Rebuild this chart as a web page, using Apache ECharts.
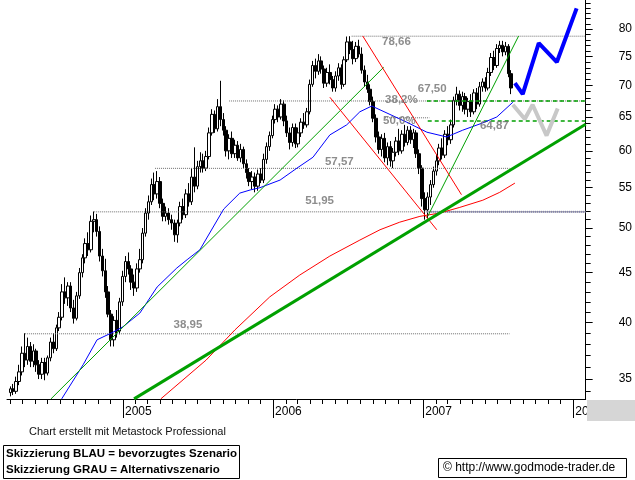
<!DOCTYPE html>
<html><head><meta charset="utf-8">
<script src="https://cdn.jsdelivr.net/npm/echarts@6/dist/echarts.min.js"></script>
<style>html,body{margin:0;padding:0;background:#fff}#c{width:635px;height:480px}</style>
</head><body><div id="c"></div>
<script>
// ---- data ----
const firstWeek = '2004-04-02';
// weekly candles: [open, close, low, high]
const candles = [
[33.9,34.2,33.6,34.4],[34.2,34.0,33.7,34.6],[34.0,34.8,33.8,35.2],[34.8,35.6,34.5,36.2],[35.6,37.2,35.3,37.8],
[37.2,36.6,36.0,39.0],[36.6,37.8,36.2,38.6],[37.8,36.5,36.0,38.2],[36.5,37.4,36.0,38.0],[37.4,36.2,35.6,37.6],
[36.2,35.4,35.0,36.6],[35.4,36.4,35.0,36.8],[36.4,35.5,34.9,36.8],[35.5,36.8,35.3,37.0],[36.8,38.2,36.5,38.6],
[38.2,37.6,37.2,39.0],[37.6,39.5,37.4,39.8],[39.5,40.5,39.2,41.0],[40.5,43.0,40.2,43.8],[43.0,42.4,41.8,44.5],
[42.4,43.6,41.6,44.0],[43.6,41.4,41.0,44.0],[41.4,40.4,39.9,42.2],[40.4,42.6,40.2,43.0],[42.6,45.0,42.3,45.5],
[45.0,46.6,44.5,47.0],[46.6,48.2,46.0,48.8],[48.2,47.5,46.8,49.5],[47.5,50.8,47.2,51.5],[50.8,51.0,49.5,52.0],
[51.0,49.6,49.0,51.7],[49.6,46.8,46.2,50.2],[46.8,45.2,44.6,47.6],[45.2,43.0,42.4,46.5],[43.0,40.8,40.5,43.6],
[40.8,38.4,37.8,41.2],[38.4,40.2,37.8,40.6],[40.2,39.2,38.6,41.2],[39.2,42.0,38.9,42.4],[42.0,44.6,41.6,45.2],
[44.6,46.2,44.0,46.8],[46.2,45.4,44.8,47.2],[45.4,44.0,43.2,45.8],[44.0,43.4,42.6,44.8],[43.4,45.4,43.0,46.0],
[45.4,46.4,45.0,47.6],[46.4,49.4,46.0,50.0],[49.4,51.8,49.0,52.4],[51.8,53.2,51.0,54.0],[53.2,55.4,52.8,56.2],
[55.4,54.2,53.4,57.0],[54.2,55.8,53.6,57.2],[55.8,53.0,52.4,56.4],[53.0,51.4,50.8,53.6],[51.4,51.8,50.8,52.6],
[51.8,51.0,50.4,52.4],[51.0,50.6,49.8,51.6],[50.6,49.2,48.4,51.0],[49.2,50.6,48.3,51.0],[50.6,52.6,50.2,53.2],
[52.6,51.6,51.0,53.6],[51.6,54.2,51.2,54.8],[54.2,53.2,52.6,55.6],[53.2,56.4,52.8,57.6],[56.4,55.2,54.4,60.5],
[55.2,57.8,54.8,58.6],[57.8,58.6,57.0,59.8],[58.6,57.6,57.0,59.6],[57.6,59.2,57.2,60.0],[59.2,62.6,58.8,63.4],
[62.6,65.4,62.2,66.2],[65.4,63.2,62.6,66.0],[63.2,66.6,62.8,67.8],[66.6,64.6,63.6,70.8],[64.6,63.0,62.2,65.6],
[63.0,60.0,59.2,63.6],[60.0,61.8,58.8,62.4],[61.8,59.6,59.0,62.8],[59.6,60.8,59.0,61.6],[60.8,59.0,58.6,61.4],
[59.0,60.2,58.4,61.0],[60.2,58.2,57.6,60.6],[58.2,57.0,56.2,58.8],[57.0,55.8,55.2,57.6],[55.8,56.4,54.8,57.2],
[56.4,55.2,54.4,57.0],[55.2,56.8,54.6,57.4],[56.8,56.0,55.6,57.6],[56.0,58.8,55.6,59.6],[58.8,60.6,58.2,61.2],
[60.6,62.2,60.0,62.8],[62.2,64.6,61.8,65.2],[64.6,66.2,64.0,67.0],[66.2,65.0,64.2,66.8],[65.0,67.0,64.6,67.8],
[67.0,64.4,63.6,67.6],[64.4,62.6,62.0,65.2],[62.6,61.2,60.2,63.4],[61.2,63.4,60.6,64.0],[63.4,61.0,60.4,64.0],
[61.0,62.6,60.5,63.4],[62.6,64.2,62.0,64.8],[64.2,63.8,63.2,65.6],[63.8,65.8,63.4,66.4],[65.8,70.2,65.4,71.0],
[70.2,73.4,69.8,74.2],[73.4,72.4,71.2,74.6],[72.4,74.2,71.8,75.4],[74.2,72.8,72.0,75.0],[72.8,70.4,69.6,73.4],
[70.4,72.2,69.8,73.0],[72.2,71.0,70.2,73.6],[71.0,69.6,69.0,71.6],[69.6,71.6,69.0,72.4],[71.6,73.0,70.8,73.8],
[73.0,70.2,69.4,73.6],[70.2,74.4,69.8,75.0],[74.4,77.6,74.0,78.6],[77.6,76.2,75.4,78.66],[76.2,74.6,73.6,77.8],
[74.6,76.8,74.0,77.6],[76.8,75.4,74.8,78.0],[75.4,72.6,72.0,76.6],[72.6,70.6,69.8,73.4],[70.6,69.4,68.8,71.8],
[69.4,67.4,66.8,70.2],[67.4,64.8,64.2,68.2],[64.8,62.0,61.2,65.4],[62.0,60.2,59.6,62.8],[60.2,61.8,59.2,62.4],
[61.8,59.0,58.4,62.6],[59.0,60.6,58.0,61.2],[60.6,58.6,57.8,61.4],[58.6,59.8,57.6,60.4],[59.8,61.4,59.2,62.0],
[61.4,60.0,59.4,63.2],[60.0,62.4,59.6,63.0],[62.4,61.2,60.6,63.8],[61.2,63.0,60.8,63.6],[63.0,61.6,61.0,63.6],
[61.6,62.6,60.4,63.2],[62.6,59.6,59.0,63.0],[59.6,57.6,56.8,60.2],[57.6,53.6,52.6,58.0],[53.6,52.2,51.0,54.4],
[52.2,53.8,51.2,54.4],[53.8,55.4,52.8,56.0],[55.4,57.2,55.0,57.8],[57.2,58.6,56.6,59.4],[58.6,60.4,58.0,61.0],
[60.4,59.4,58.8,61.8],[59.4,62.4,59.0,63.0],[62.4,61.6,60.8,63.6],[61.6,63.8,61.0,64.6],[63.8,67.6,63.4,68.2],
[67.6,68.6,66.8,69.8],[68.6,66.8,66.0,69.2],[66.8,68.2,65.8,69.0],[68.2,66.2,65.4,68.8],[66.2,67.4,65.0,68.0],
[67.4,65.8,65.0,68.6],[65.8,68.8,65.4,69.4],[68.8,67.0,66.2,69.6],[67.0,69.8,66.6,70.6],[69.8,70.6,69.0,71.2],
[70.6,69.6,69.0,71.4],[69.6,72.2,69.2,73.0],[72.2,74.8,71.6,75.6],[74.8,73.4,72.6,76.0],[73.4,76.4,73.0,77.2],
[76.4,77.0,75.6,77.8],[77.0,75.8,75.0,77.8],[75.8,76.8,75.2,77.6],[76.8,72.0,71.4,77.2],[72.0,69.6,68.6,72.6]
];
const blueMA = [
['2004-08-05',33.4],['2004-09-26',36.2],['2004-10-30',38.4],['2004-12-08',39.1],['2005-01-01',39.6],
['2005-02-11',40.9],['2005-03-25',43.5],['2005-05-12',45.5],['2005-06-06',46.4],['2005-07-07',47.5],
['2005-09-03',52.3],['2005-10-12',54.3],['2005-11-06',54.7],['2005-11-30',55.0],['2006-01-18',56.0],
['2006-02-28',57.6],['2006-04-08',59.1],['2006-05-19',62.3],['2006-06-29',63.8],['2006-07-31',65.8],
['2006-08-29',66.7],['2006-10-05',65.6],['2006-11-22',64.2],['2007-01-10',62.7],['2007-02-27',62.0],
['2007-04-07',63.0],['2007-05-26',64.1],['2007-06-29',65.0],['2007-08-07',67.3]
];
const redMA = [
['2005-04-03',33.4],['2005-07-22',36.6],['2005-09-30',39.3],['2005-12-24',42.5],['2006-03-07',44.75],
['2006-05-19',46.8],['2006-07-31',48.6],['2006-09-18',49.8],['2006-11-05',50.7],['2006-12-24',51.4],
['2007-02-10',51.8],['2007-03-31',52.5],['2007-05-26',53.4],['2007-07-06',54.4],['2007-08-12',55.6]
];
const blueSketch = [['2007-08-12',70.4],['2007-08-31',68.6],['2007-10-09',77.4],['2007-11-22',74.0],['2008-01-09',84.0]];
const graySketch = [['2007-08-07',66.9],['2007-09-05',64.7],['2007-09-24',66.9],['2007-10-28',62.2],['2007-11-24',66.3]];
const greenThick = [['2005-01-28',33.4],['2008-01-31',63.9]];
const greenThin1 = [['2004-07-10',33.4],['2006-09-27',73.1]];
const greenThin2 = [['2007-01-12',51.4],['2007-08-21',78.7]];
const red1 = [['2006-08-07',78.7],['2007-04-04',54.1]];
const red2 = [['2006-05-19',68.1],['2007-02-03',49.8]];
const levels = [
 [78.66,'2006-07-11','2008-01-31'],[67.50,'2005-09-16','2008-01-31'],[64.87,'2006-09-30','2007-01-16'],
 [57.57,'2005-03-20','2007-07-30'],[51.95,'2004-10-23','2008-01-31'],[38.95,'2004-05-08','2007-07-30']
];
const blueLevels = [[51.95,'2007-01-10','2008-01-31']];
const dashedLevels = [[67.50,'2007-01-10','2008-01-31'],[64.40,'2007-01-12','2008-01-31']];
const levelLabels = [
 ['78,66','2006-10-28',77.6],['67,50','2007-01-23',69.4],['38,2%','2006-11-09',67.65],['50,0%','2006-11-04',64.4],
 ['64,87','2007-06-23',63.6],['57,57','2006-06-11',58.4],['51,95','2006-04-24',53.3],['38,95','2005-06-08',39.8]
];
const priceTicks = [35,40,45,50,55,60,65,70,75,80];
const yearTicks = ['2005-01-01','2006-01-01','2007-01-01','2008-01-01'];
const yMin = 33.39, yMax = 85.68;
const xMin = '2004-03-25', xMax = '2008-01-31';

// ---- helpers ----
const L = Math.log;
const DAY = 864e5;
const T = s => new Date(s + 'T00:00:00Z').getTime();
const t0 = T(firstWeek);
const weekDate = i => t0 + i * 7 * DAY;
const minorTicks = []; for (let p = 33; p <= 85; p++) minorTicks.push(L(p));
const monthTicks = []; for (let y = 2004; y <= 2008; y++) for (let m = 0; m < 12; m++) monthTicks.push(Date.UTC(y, m, 1));
const pts = arr => arr.map(d => [T(d[0]), L(d[1])]);
const lineS = (data, color, width, type, z) => ({type:'line', data: pts(data), symbol:'none', silent:true, animation:false,
  lineStyle:{color, width, type: type || 'solid'}, z: z || 3});

const series = [
 {type:'candlestick', animation:false, barWidth:3, z:2,
  data: candles.map((c,i)=>[weekDate(i), L(c[0]), L(c[1]), L(c[2]), L(c[3])]),
  itemStyle:{color:'#fff', color0:'#000', borderColor:'#000', borderColor0:'#000', borderWidth:1}}
];
levels.forEach(l => series.push(lineS([[l[1],l[0]],[l[2],l[0]]], '#6e6e6e', 1, [1,1], 3)));
blueLevels.forEach(l => series.push(lineS([[l[1],l[0]],[l[2],l[0]]], '#7a7aa6', 2, [1,1], 3)));
dashedLevels.forEach(l => series.push(lineS([[l[1],l[0]],[l[2],l[0]]], '#00a000', 1.5, [4,3], 4)));
series.push(lineS(blueMA, '#0000ff', 1, null, 4));
series.push(lineS(redMA, '#ff0000', 1, null, 4));
series.push(lineS(greenThin1, '#00a000', 1, null, 4));
series.push(lineS(greenThin2, '#00a000', 1, null, 4));
series.push(lineS(red1, '#ff0000', 1, null, 4));
series.push(lineS(red2, '#ff0000', 1, null, 4));
series.push(lineS(greenThick, '#00a000', 3, null, 5));
series.push(lineS(graySketch, '#c8c8c8', 4, null, 6));
series.push(lineS(blueSketch, '#0000ff', 4, null, 6));
series.push({type:'scatter', symbolSize:1, itemStyle:{color:'rgba(0,0,0,0)'}, silent:true, animation:false, z:7,
  data: levelLabels.map(l => ({value:[T(l[1]), L(l[2])], label:{show:true, position:'inside', formatter:l[0],
    color:'#707070', fontWeight:'bold', fontSize:11.5, fontFamily:'Liberation Sans, Arial'}}))});

const font = 'Liberation Sans, Arial';
const option = {
 animation:false,
 grid:{left:7, right:49, top:0, bottom:81, containLabel:false},
 xAxis:[
  {type:'value', min:T(xMin), max:T(xMax), position:'bottom',
   axisLine:{show:true, lineStyle:{color:'#000', width:1}},
   axisTick:{show:true, customValues: monthTicks, length:5, lineStyle:{color:'#000'}},
   axisLabel:{show:false}, splitLine:{show:false}},
  {type:'value', min:T(xMin), max:T(xMax), position:'bottom',
   axisLine:{show:false},
   axisTick:{show:true, customValues: yearTicks.map(T), length:19, lineStyle:{color:'#000'}},
   axisLabel:{show:true, customValues: yearTicks.map(T), align:'left', margin:7, padding:[0,0,0,2],
     formatter: v => String(new Date(v).getUTCFullYear()), color:'#000', fontSize:12, fontFamily:font},
   splitLine:{show:false}}
 ],
 yAxis:[
  {type:'value', min:L(yMin), max:L(yMax), position:'right',
   axisLine:{show:true, lineStyle:{color:'#000'}},
   axisTick:{show:true, customValues: priceTicks.map(L), length:7, lineStyle:{color:'#000'}},
   axisLabel:{show:true, customValues: priceTicks.map(L), margin:33, formatter: v => String(Math.round(Math.exp(v))),
     color:'#000', fontSize:12, fontFamily:font},
   splitLine:{show:false}},
  {type:'value', min:L(yMin), max:L(yMax), position:'right',
   axisLine:{show:false},
   axisTick:{show:true, customValues: minorTicks, length:5, lineStyle:{color:'#000'}},
   axisLabel:{show:false}, splitLine:{show:false}}
 ],
 series,
 graphic:[
  {type:'rect', shape:{x:587, y:400, width:48, height:21}, style:{fill:'#d6d6d6'}, z:100},
  {type:'text', x:29, y:426, style:{text:'Chart erstellt mit Metastock Professional', font:'11px '+font, fill:'#111'}, z:100},
  {type:'rect', shape:{x:3.5, y:445.5, width:236, height:33}, style:{fill:'#fff', stroke:'#000', lineWidth:1}, z:100},
  {type:'text', x:6, y:448, style:{text:'Skizzierung BLAU = bevorzugtes Szenario', font:'bold 11.5px '+font, fill:'#000'}, z:101},
  {type:'text', x:6, y:464, style:{text:'Skizzierung GRAU = Alternativszenario', font:'bold 11.5px '+font, fill:'#000'}, z:101},
  {type:'rect', shape:{x:438.5, y:458.5, width:188, height:19}, style:{fill:'#fff', stroke:'#000', lineWidth:1}, z:100},
  {type:'text', x:443, y:462, style:{text:'© http://www.godmode-trader.de', font:'12px '+font, fill:'#000'}, z:101}
 ]
};
const chart = echarts.init(document.getElementById('c'), null, {renderer:'canvas'});
chart.setOption(option);
</script></body></html>
